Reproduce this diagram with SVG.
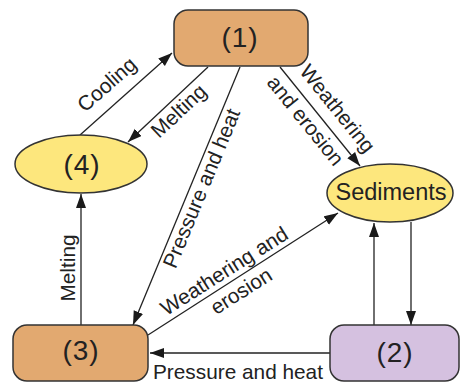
<svg xmlns="http://www.w3.org/2000/svg" width="460" height="382" viewBox="0 0 460 382">
<defs>
<marker id="ah" markerUnits="userSpaceOnUse" markerWidth="15" markerHeight="11" refX="14" refY="5" orient="auto">
<path d="M0,0 L14,5 L0,10 z" fill="#1a1a1a"/>
</marker>
<style>
.edge{stroke:#222;stroke-width:1.3;fill:none;marker-end:url(#ah)}
.node{stroke:#333;stroke-width:1.5}
.orange{fill:#E2A970}
.yellow{fill:#FDE77D}
.purple{fill:#D5C1E0}
.num{font-family:"Liberation Sans",Arial,sans-serif;font-size:28px;fill:#222;text-anchor:middle;letter-spacing:1px}
.nm{font-family:"Liberation Sans",Arial,sans-serif;font-size:23.5px;fill:#222;text-anchor:middle}
.lbl{font-family:"Liberation Sans",Arial,sans-serif;font-size:20.8px;fill:#222}
</style>
</defs>
<rect width="460" height="382" fill="#fff"/>
<g id="connectors">
<line class="edge" x1="80" y1="135" x2="172" y2="53"/>
<line class="edge" x1="208" y1="67" x2="128" y2="142"/>
<line class="edge" x1="240" y1="67" x2="133" y2="325"/>
<line class="edge" x1="280" y1="67" x2="360" y2="166"/>
<line class="edge" x1="148" y1="335" x2="338" y2="213"/>
<line class="edge" x1="81" y1="325" x2="81" y2="194"/>
<line class="edge" x1="374" y1="325" x2="374" y2="223"/>
<line class="edge" x1="411" y1="222" x2="411" y2="325"/>
<line class="edge" x1="330" y1="353" x2="150" y2="353"/>
<text class="lbl" transform="translate(85,113) rotate(-41.4)">Cooling</text>
<text class="lbl" transform="translate(159,139) rotate(-43.2)">Melting</text>
<text class="lbl" text-anchor="middle" transform="translate(208,191) rotate(-67.5)">Pressure and heat</text>
<text class="lbl" text-anchor="middle" transform="translate(332,113) rotate(51.2)">Weathering</text>
<text class="lbl" text-anchor="middle" transform="translate(300,125) rotate(51.2)">and erosion</text>
<text class="lbl" text-anchor="middle" transform="translate(228,277) rotate(-32.4)">Weathering and</text>
<text class="lbl" text-anchor="middle" transform="translate(245,297) rotate(-32.4)">erosion</text>
<text class="lbl" text-anchor="middle" transform="translate(75,268) rotate(-90)">Melting</text>
<text class="lbl" x="153" y="379">Pressure and heat</text>
</g>
<g id="node1">
<rect class="node orange" x="174" y="10" width="134" height="56" rx="14"/>
<text class="num" x="240" y="47">(1)</text>
</g>
<g id="node2">
<rect class="node purple" x="330" y="325" width="129" height="56" rx="14"/>
<text class="num" x="395" y="362">(2)</text>
</g>
<g id="node3">
<rect class="node orange" x="13" y="325" width="135" height="56" rx="14"/>
<text class="num" x="81" y="360">(3)</text>
</g>
<g id="node4">
<ellipse class="node yellow" cx="81" cy="164" rx="66" ry="29"/>
<text class="num" x="82" y="174">(4)</text>
</g>
<g id="sediments">
<ellipse class="node yellow" cx="390" cy="193" rx="63" ry="29"/>
<text class="nm" x="391" y="200">Sediments</text>
</g>
</svg>
